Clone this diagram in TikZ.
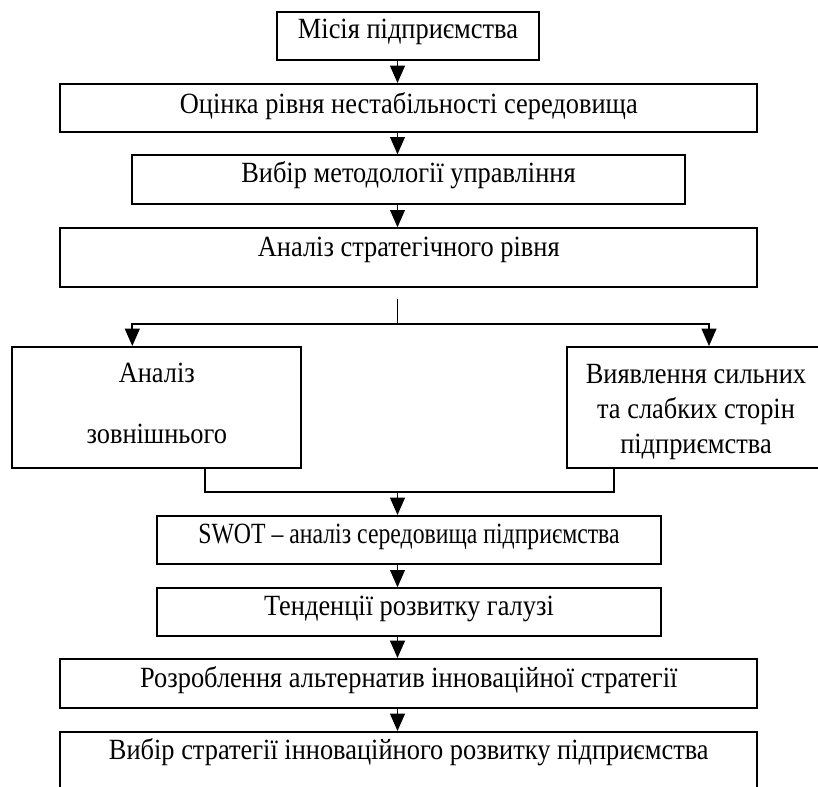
\documentclass[tikz,border=0pt]{standalone}
\usepackage{fontspec}
\setmainfont{Liberation Serif}[FakeStretch=0.9]
\usetikzlibrary{arrows.meta,fit,calc}
\begin{document}
\begin{tikzpicture}[x=0.75pt,y=-0.75pt,
  box/.style={draw, line width=1.4pt, inner sep=0pt},
  txt/.style={font=\fontsize{22}{28}\selectfont, anchor=base, inner sep=0pt},
  arr/.style={line width=1.4pt, -{Triangle[length=13pt,width=11pt]}},
  ln/.style={line width=1.4pt}]
\useasboundingbox (0,0) rectangle (818,787);
\clip (0,0) rectangle (818,787);
% boxes
\node[box, fit={(277,11.7) (539,60)}] (b1) {};
\node[box, fit={(60.3,84) (757.3,132)}] (b2) {};
\node[box, fit={(132.3,155.3) (684.7,204)}] (b3) {};
\node[box, fit={(60.3,228.3) (757.3,287.3)}] (b4) {};
\node[box, fit={(12.3,347) (301.3,468.3)}] (L) {};
\node[box, fit={(566.6,347) (826,468.3)}] (R) {};
\node[box, fit={(156.7,516) (661.3,564)}] (swot) {};
\node[box, fit={(156.7,588.3) (661.3,636)}] (trend) {};
\node[box, fit={(60.3,659) (757.3,707.7)}] (alt) {};
\node[box, fit={(60.3,732) (757.3,800)}] (choice) {};
% texts
\node[txt] (t1) at (408,39) {Місія підприємства};
\node[txt] (t2) at (408.8,114) {Оцінка рівня нестабільності середовища};
\node[txt] (t3) at (408.5,183) {Вибір методології управління};
\node[txt] (t4) at (408.8,257) {Аналіз стратегічного рівня};
\node[txt] (tl1) at (156.8,382.5) {Аналіз};
\node[txt] (tl2) at (156.8,444) {зовнішнього};
\node[txt] (tr1) at (696,384) {Виявлення сильних};
\node[txt] (tr2) at (696,419) {та слабких сторін};
\node[txt] (tr3) at (696,454) {підприємства};
\node[txt] (t5) at (409,544) {\scalebox{0.9}[1]{SWOT – аналіз середовища підприємства}};
\node[txt] (t6) at (409,616) {Тенденції розвитку галузі};
\node[txt] (t7) at (408.8,687) {Розроблення альтернатив інноваційної стратегії};
\node[txt] (t8) at (408.8,759.5) {Вибір стратегії інноваційного розвитку підприємства};
% connector coordinates
\coordinate (ax) at (397.5,0);
\coordinate (lx) at (132.3,0);
\coordinate (rx) at (709,0);
\coordinate (lx2) at (205.2,0);
\coordinate (rx2) at (613.6,0);
\coordinate (stemtop) at (397.5,299.3);
\coordinate (split) at (397.5,324);
\coordinate (join) at (397.5,491.7);
% connectors
\draw[arr] (b1.south -| ax) -- (b2.north -| ax);
\draw[arr] (b2.south -| ax) -- (b3.north -| ax);
\draw[arr] (b3.south -| ax) -- (b4.north -| ax);
\draw[ln] (stemtop) -- (split);
\draw[arr] (split) -| (L.north -| lx);
\draw[arr] (split) -| (R.north -| rx);
\draw[ln] (L.south -| lx2) |- (join);
\draw[ln] (R.south -| rx2) |- (join);
\draw[arr] (join) -- (swot.north -| ax);
\draw[arr] (swot.south -| ax) -- (trend.north -| ax);
\draw[arr] (trend.south -| ax) -- (alt.north -| ax);
\draw[arr] (alt.south -| ax) -- (choice.north -| ax);
\end{tikzpicture}
\end{document}
